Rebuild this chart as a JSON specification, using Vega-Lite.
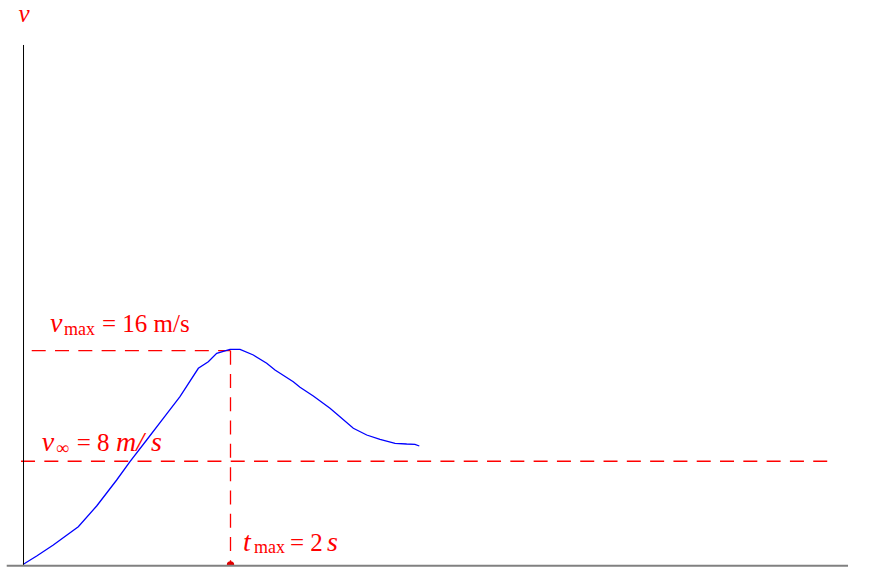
{
  "$schema": "https://vega.github.io/schema/vega-lite/v6.json",
  "width": 873,
  "height": 565,
  "autosize": {"type": "none"},
  "padding": {"left": 0, "top": 0, "right": 0, "bottom": 9},
  "background": "white",
  "config": {"view": {"stroke": null}},
  "datasets": {
    "curve": [
      {"t": 0.0, "v": 0.05},
      {"t": 0.019, "v": 0.127},
      {"t": 0.132, "v": 0.67},
      {"t": 0.292, "v": 1.488},
      {"t": 0.533, "v": 2.85},
      {"t": 0.71, "v": 4.391},
      {"t": 0.903, "v": 6.326},
      {"t": 1.031, "v": 7.687},
      {"t": 1.192, "v": 9.302},
      {"t": 1.352, "v": 10.917},
      {"t": 1.513, "v": 12.525},
      {"t": 1.69, "v": 14.638},
      {"t": 1.786, "v": 15.129},
      {"t": 1.867, "v": 15.754},
      {"t": 1.995, "v": 16.052},
      {"t": 2.092, "v": 16.052},
      {"t": 2.22, "v": 15.628},
      {"t": 2.349, "v": 15.01},
      {"t": 2.429, "v": 14.512},
      {"t": 2.605, "v": 13.641},
      {"t": 2.67, "v": 13.224},
      {"t": 2.798, "v": 12.577},
      {"t": 2.959, "v": 11.661},
      {"t": 3.024, "v": 11.237},
      {"t": 3.184, "v": 10.173},
      {"t": 3.313, "v": 9.674},
      {"t": 3.441, "v": 9.354},
      {"t": 3.586, "v": 9.057},
      {"t": 3.698, "v": 9.005},
      {"t": 3.778, "v": 8.982},
      {"t": 3.82, "v": 8.856}
    ],
    "guides": [
      {"t1": 0.084, "t2": 2.0, "v1": 15.95, "v2": 15.95},
      {"t1": 2.0, "t2": 2.0, "v1": 15.95, "v2": 0},
      {"t1": -0.019, "t2": 7.76, "v1": 7.72, "v2": 7.72}
    ],
    "vaxis": [{"t1": 0.005, "t2": 0.005, "v1": 0, "v2": 38.7}],
    "haxis": [{"t1": -0.157, "t2": 7.952, "v1": -0.05, "v2": -0.05}],
    "dot": [{"t": 2.0, "v": 0}],
    "italicBig": [
      {"t": 0.26, "v": 17.34, "label": "v"},
      {"t": 0.18, "v": 8.48, "label": "v"},
      {"t": 0.896, "v": 8.48, "label": "m/ s"},
      {"t": 2.12, "v": 1.04, "label": "t"},
      {"t": 2.93, "v": 1.04, "label": "s"}
    ],
    "italicTop": [
      {"t": -0.044, "v": 40.43, "label": "v"}
    ],
    "upright": [
      {"t": 0.761, "v": 17.34, "label": "= 16 m/s"},
      {"t": 0.518, "v": 8.48, "label": "= 8"},
      {"t": 2.573, "v": 1.04, "label": "= 2"}
    ],
    "sub": [
      {"t": 0.395, "v": 17.12, "label": "max"},
      {"t": 0.318, "v": 8.26, "label": "∞"},
      {"t": 2.227, "v": 0.893, "label": "max"}
    ]
  },
  "layer": [
    {
      "data": {"name": "guides"},
      "mark": {"type": "rule", "color": "#ff0000", "strokeWidth": 1.3, "strokeDash": [14, 9.3]},
      "encoding": {
        "x": {"field": "t1", "type": "quantitative", "scale": {"domain": [-0.2217, 8.1928], "nice": false, "zero": false}, "axis": null},
        "x2": {"field": "t2"},
        "y": {"field": "v1", "type": "quantitative", "scale": {"domain": [0, 42.047], "nice": false, "zero": false}, "axis": null},
        "y2": {"field": "v2"}
      }
    },
    {
      "data": {"name": "curve"},
      "mark": {"type": "line", "color": "#0000ff", "strokeWidth": 1.3, "interpolate": "linear"},
      "encoding": {
        "x": {"field": "t", "type": "quantitative", "axis": null},
        "y": {"field": "v", "type": "quantitative", "axis": null}
      }
    },
    {
      "data": {"name": "dot"},
      "mark": {"type": "circle", "color": "#e00000", "size": 55, "opacity": 1, "clip": true},
      "encoding": {
        "x": {"field": "t", "type": "quantitative", "axis": null},
        "y": {"field": "v", "type": "quantitative", "axis": null}
      }
    },
    {
      "data": {"name": "vaxis"},
      "mark": {"type": "rule", "color": "#000000", "strokeWidth": 1},
      "encoding": {
        "x": {"field": "t1", "type": "quantitative", "axis": null},
        "x2": {"field": "t2"},
        "y": {"field": "v1", "type": "quantitative", "axis": null},
        "y2": {"field": "v2"}
      }
    },
    {
      "data": {"name": "haxis"},
      "mark": {"type": "rule", "color": "#808080", "strokeWidth": 2},
      "encoding": {
        "x": {"field": "t1", "type": "quantitative", "axis": null},
        "x2": {"field": "t2"},
        "y": {"field": "v1", "type": "quantitative", "axis": null},
        "y2": {"field": "v2"}
      }
    },
    {
      "data": {"name": "italicBig"},
      "mark": {"type": "text", "font": "Times New Roman", "fontStyle": "italic", "fontSize": 28, "color": "#ff0000", "align": "left", "baseline": "alphabetic"},
      "encoding": {
        "x": {"field": "t", "type": "quantitative", "axis": null},
        "y": {"field": "v", "type": "quantitative", "axis": null},
        "text": {"field": "label"}
      }
    },
    {
      "data": {"name": "italicTop"},
      "mark": {"type": "text", "font": "Times New Roman", "fontStyle": "italic", "fontSize": 25, "color": "#ff0000", "align": "left", "baseline": "alphabetic"},
      "encoding": {
        "x": {"field": "t", "type": "quantitative", "axis": null},
        "y": {"field": "v", "type": "quantitative", "axis": null},
        "text": {"field": "label"}
      }
    },
    {
      "data": {"name": "upright"},
      "mark": {"type": "text", "font": "Times New Roman", "fontSize": 25, "color": "#ff0000", "align": "left", "baseline": "alphabetic"},
      "encoding": {
        "x": {"field": "t", "type": "quantitative", "axis": null},
        "y": {"field": "v", "type": "quantitative", "axis": null},
        "text": {"field": "label"}
      }
    },
    {
      "data": {"name": "sub"},
      "mark": {"type": "text", "font": "Times New Roman", "fontSize": 18, "color": "#ff0000", "align": "left", "baseline": "alphabetic"},
      "encoding": {
        "x": {"field": "t", "type": "quantitative", "axis": null},
        "y": {"field": "v", "type": "quantitative", "axis": null},
        "text": {"field": "label"}
      }
    }
  ]
}
